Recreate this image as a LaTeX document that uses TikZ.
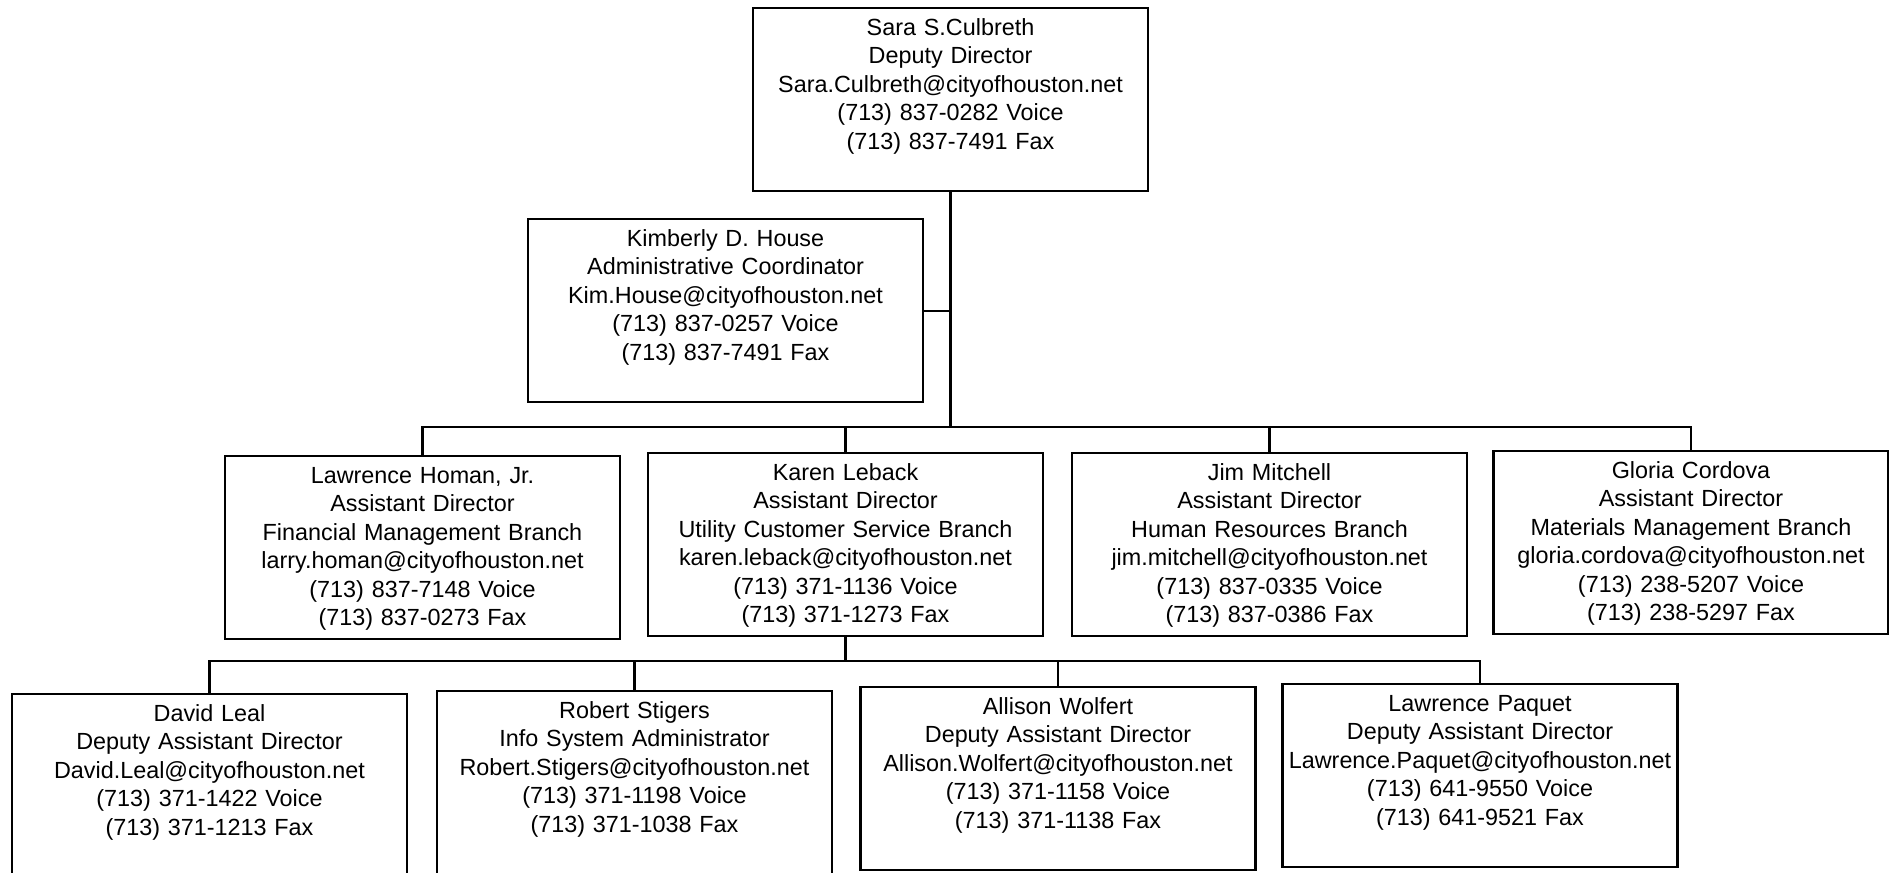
\documentclass[tikz,border=0pt]{standalone}
\usepackage{fontspec}
\setmainfont{Liberation Sans}
\usetikzlibrary{positioning, calc}

\begin{document}
\begin{tikzpicture}[
    line width=0.6pt,
    card/.style={draw, line width=0.7pt, anchor=north, inner sep=0pt,
        text width=3.95cm, align=center, text height=0.27cm, text depth=1.56cm,
        font=\fontsize{6.65}{8.1}\selectfont}
]
    \useasboundingbox (0,0) rectangle (18.89,-8.72);

    % --- Diretoria ---
    \node[card] (sara) at (9.505,-0.07) {Sara S.Culbreth\\ Deputy Director\\ Sara.Culbreth@cityofhouston.net\\ (713) 837-0282 Voice\\ (713) 837-7491 Fax};
    \node[card] (kim) at (7.255,-2.18) {Kimberly D. House\\ Administrative Coordinator\\ Kim.House@cityofhouston.net\\ (713) 837-0257 Voice\\ (713) 837-7491 Fax};

    % --- Assistentes ---
    \node[card] (homan) at (4.225,-4.55) {Lawrence Homan, Jr.\\ Assistant Director\\ Financial Management Branch\\ larry.homan@cityofhouston.net\\ (713) 837-7148 Voice\\ (713) 837-0273 Fax};
    \node[card] (leback) at (8.455,-4.52) {Karen Leback\\ Assistant Director\\ Utility Customer Service Branch\\ karen.leback@cityofhouston.net\\ (713) 371-1136 Voice\\ (713) 371-1273 Fax};
    \node[card] (mitchell) at (12.695,-4.52) {Jim Mitchell\\ Assistant Director\\ Human Resources Branch\\ jim.mitchell@cityofhouston.net\\ (713) 837-0335 Voice\\ (713) 837-0386 Fax};
    \node[card] (cordova) at (16.91,-4.50) {Gloria Cordova\\ Assistant Director\\ Materials Management Branch\\ gloria.cordova@cityofhouston.net\\ (713) 238-5207 Voice\\ (713) 238-5297 Fax};

    % --- Equipe de Karen ---
    \node[card] (leal) at (2.095,-6.93) {David Leal\\ Deputy Assistant Director\\ David.Leal@cityofhouston.net\\ (713) 371-1422 Voice\\ (713) 371-1213 Fax};
    \node[card] (stigers) at (6.345,-6.90) {Robert Stigers\\ Info System Administrator\\ Robert.Stigers@cityofhouston.net\\ (713) 371-1198 Voice\\ (713) 371-1038 Fax};
    \node[card] (wolfert) at (10.58,-6.86) {Allison Wolfert\\ Deputy Assistant Director\\ Allison.Wolfert@cityofhouston.net\\ (713) 371-1158 Voice\\ (713) 371-1138 Fax};
    \node[card] (paquet) at (14.80,-6.83) {Lawrence Paquet\\ Deputy Assistant Director\\ Lawrence.Paquet@cityofhouston.net\\ (713) 641-9550 Voice\\ (713) 641-9521 Fax};

    % --- Barras ---
    \coordinate (bus1) at (0,-4.27);
    \coordinate (bus2) at (0,-6.61);

    % --- Conexões ---
    \draw (sara.south) -- (sara.south |- bus1);
    \draw (kim.east) -- (kim.east -| sara.south);

    \draw (homan.north) |- (bus1 -| cordova.north) -- (cordova.north);
    \draw (leback.north) -- (leback.north |- bus1);
    \draw (mitchell.north) -- (mitchell.north |- bus1);

    \draw (leback.south) -- (leback.south |- bus2);
    \draw (leal.north) |- (bus2 -| paquet.north) -- (paquet.north);
    \draw (stigers.north) -- (stigers.north |- bus2);
    \draw (wolfert.north) -- (wolfert.north |- bus2);

\end{tikzpicture}
\end{document}
